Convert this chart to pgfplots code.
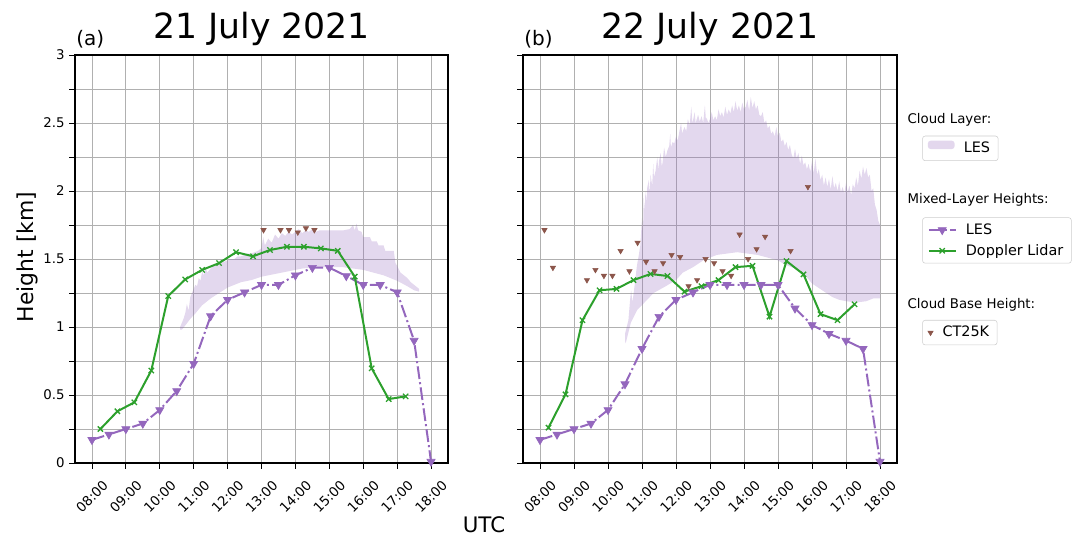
\documentclass[border=0pt]{standalone}
\usepackage{fontspec}
\setmainfont{DejaVu Sans}
\usepackage{pgfplots}
\pgfplotsset{compat=1.18}
\definecolor{tabpurple}{HTML}{9467BD}
\definecolor{tabgreen}{HTML}{2CA02C}
\definecolor{tabbrown}{HTML}{8C564B}
\definecolor{gridgray}{HTML}{B0B0B0}
\pgfplotsset{
  panel/.style={
    scale only axis, width=279.75pt, height=306pt,
    xmin=7.5, xmax=18.5, ymin=0, ymax=3,
    xtick={8,9,10,11,12,13,14,15,16,17,18},
    xticklabels={08:00,09:00,10:00,11:00,12:00,13:00,14:00,15:00,16:00,17:00,18:00},
    ytick={0,0.25,0.5,0.75,1,1.25,1.5,1.75,2,2.25,2.5,2.75,3},
    grid=major, major grid style={color=gridgray, line width=0.6pt},
    tick align=outside, major tick length=4.2pt,
    tick style={black, line width=0.6pt},
    axis line style={line width=0.8pt},
    xtick pos=bottom, ytick pos=left,
    xticklabel style={yshift=-21pt, rotate=45, anchor=center, font=\fontsize{10}{12}\selectfont},
    yticklabel style={font=\fontsize{10}{12}\selectfont},
  },
  lesml/.style={tabpurple, line width=1.5pt, dash pattern=on 9.6pt off 2.4pt on 1.5pt off 2.4pt,
    mark=triangle*, mark size=3.5pt, mark options={solid, rotate=180, fill=tabpurple, draw=tabpurple, line width=0.5pt}},
  dl/.style={tabgreen, line width=1.5pt, mark=x, mark size=2.8pt, mark options={solid, line width=1pt}},
  ceil/.style={only marks, mark=triangle*, mark size=2.3pt, mark options={rotate=180, fill=tabbrown, draw=tabbrown}},
  cloudfill/.style={fill=tabpurple, fill opacity=0.26, draw=none},
  myline legend/.style={legend image code/.code={\draw[mark repeat=2,mark phase=2,##1] plot coordinates {(0pt,0pt) (10pt,0pt) (20pt,0pt)};}},
  myarea legend/.style={legend image code/.code={\fill[draw=none, fill=tabpurple, fill opacity=0.26] (0pt,-0.05em) rectangle (20pt,0.57em);}},
  legbox/.style={hide axis, scale only axis, width=10pt, height=10pt, xmin=0, xmax=1, ymin=0, ymax=1, anchor=north west,
    legend style={at={(0,1)}, anchor=north west, draw=black!20, rounded corners=2pt,
      inner xsep=4pt, inner ysep=2.5pt, row sep=2pt, column sep=5pt,
      font=\fontsize{10.8}{13}\selectfont, cells={anchor=west}}},
}
\begin{document}
\begin{tikzpicture}[x=0.75pt,y=0.75pt]
\path[use as bounding box] (0,0) rectangle (1085,536);
% ---------------- left panel ----------------
\begin{axis}[panel, at={(56.25pt,54.75pt)}, anchor=south west,
  yticklabels={0,{},0.5,{},1,{},1.5,{},2,{},2.5,{},3}]
\addplot[cloudfill] coordinates {
(10.60,1.00)(10.65,1.03)(10.70,1.06)(10.75,1.10)(10.80,1.17)(10.85,1.12)(10.90,1.22)(10.95,1.25)
(11.00,1.28)(11.05,1.31)(11.10,1.30)(11.15,1.36)(11.20,1.34)(11.25,1.41)(11.30,1.38)(11.35,1.44)
(11.40,1.40)(11.50,1.43)(11.60,1.46)(11.70,1.45)(11.80,1.47)(11.90,1.48)(12.00,1.49)(12.10,1.50)
(12.20,1.50)(12.30,1.52)(12.40,1.52)(12.50,1.53)(12.60,1.54)(12.70,1.54)(12.80,1.55)(12.90,1.56)
(13.00,1.58)(13.05,1.66)(13.10,1.60)(13.20,1.65)(13.30,1.62)(13.40,1.68)(13.50,1.65)(13.60,1.69)
(13.70,1.67)(13.80,1.70)(13.90,1.68)(14.00,1.70)(14.10,1.72)(14.20,1.69)(14.30,1.71)(14.40,1.70)
(14.50,1.72)(14.60,1.70)(14.70,1.71)(15.00,1.71)(15.40,1.71)(15.60,1.72)(15.70,1.75)(15.75,1.71)
(15.80,1.76)(15.85,1.71)(15.95,1.70)(16.00,1.66)(16.20,1.66)(16.25,1.63)(16.40,1.63)(16.45,1.60)
(16.60,1.60)(16.65,1.56)(16.90,1.56)(16.95,1.47)(17.00,1.45)(17.10,1.40)(17.30,1.36)(17.40,1.33)
(17.50,1.31)(17.65,1.28)
(17.65,1.26)(17.50,1.27)(17.30,1.30)(17.00,1.34)(16.80,1.36)(16.60,1.38)(16.30,1.40)(16.00,1.42)
(15.70,1.43)(15.40,1.44)(15.00,1.44)(14.60,1.44)(14.20,1.43)(13.80,1.41)(13.40,1.39)(13.00,1.37)
(12.70,1.345)(12.40,1.33)(12.20,1.31)(12.00,1.29)(11.75,1.25)(11.50,1.21)(11.25,1.16)(11.05,1.10)
(10.90,1.06)(10.78,1.02)(10.65,0.98)(10.60,0.98)
} -- cycle;
\addplot[lesml] coordinates {
(8.0,0.17)(8.5,0.21)(9.0,0.25)(9.5,0.29)(10.0,0.39)(10.5,0.53)(11.0,0.73)(11.5,1.08)
(12.0,1.20)(12.5,1.255)(13.0,1.31)(13.5,1.31)(14.0,1.38)(14.5,1.436)(15.0,1.436)(15.5,1.375)
(16.0,1.31)(16.5,1.31)(17.0,1.255)(17.5,0.90)(18.0,0.01)};
\addplot[dl] coordinates {
(8.25,0.25)(8.75,0.38)(9.25,0.446)(9.75,0.68)(10.25,1.228)(10.75,1.35)(11.25,1.42)(11.75,1.47)
(12.25,1.55)(12.75,1.52)(13.25,1.566)(13.75,1.59)(14.25,1.59)(14.75,1.578)(15.25,1.56)(15.75,1.37)
(16.25,0.696)(16.75,0.47)(17.25,0.49)};
\addplot[ceil] coordinates {
(13.06,1.713)(13.56,1.713)(13.81,1.713)(14.07,1.696)(14.31,1.726)(14.56,1.713)};
\end{axis}
% ---------------- right panel ----------------
\begin{axis}[panel, at={(392.25pt,54.75pt)}, anchor=south west, width=280.5pt,
  yticklabels={,,}]
\addplot[cloudfill] coordinates {
(10.50,0.95)(10.55,1.00)(10.60,1.05)(10.65,1.20)(10.68,1.27)(10.72,1.18)(10.78,1.30)(10.85,1.45)
(10.90,1.52)(10.95,1.60)(11.00,1.80)(11.03,1.70)(11.05,1.95)(11.08,1.85)(11.10,2.00)(11.13,1.92)
(11.15,2.02)(11.20,2.08)(11.23,1.98)(11.25,2.12)(11.30,2.04)(11.33,2.20)(11.35,2.10)(11.40,2.15)
(11.45,2.25)(11.48,2.15)(11.50,2.22)(11.55,2.28)(11.58,2.18)(11.60,2.20)(11.65,2.32)(11.70,2.25)
(11.75,2.30)(11.80,2.33)(11.83,2.42)(11.85,2.32)(11.90,2.36)(11.95,2.35)(12.00,2.40)(12.05,2.37)
(12.10,2.44)(12.15,2.50)(12.18,2.42)(12.20,2.44)(12.25,2.47)(12.30,2.44)(12.35,2.53)(12.40,2.48)
(12.45,2.62)(12.48,2.50)(12.50,2.52)(12.55,2.58)(12.58,2.49)(12.60,2.52)(12.65,2.56)(12.70,2.51)
(12.75,2.55)(12.80,2.50)(12.85,2.63)(12.88,2.52)(12.90,2.54)(12.95,2.50)(13.00,2.53)(13.05,2.58)
(13.10,2.52)(13.15,2.55)(13.20,2.52)(13.25,2.60)(13.30,2.55)(13.35,2.58)(13.40,2.54)(13.45,2.62)
(13.50,2.56)(13.55,2.60)(13.60,2.57)(13.65,2.63)(13.70,2.58)(13.75,2.66)(13.80,2.59)(13.85,2.63)
(13.90,2.58)(13.95,2.65)(14.00,2.60)(14.05,2.62)(14.10,2.67)(14.15,2.59)(14.20,2.69)(14.25,2.61)
(14.30,2.66)(14.35,2.60)(14.40,2.63)(14.45,2.56)(14.50,2.55)(14.55,2.58)(14.60,2.50)(14.65,2.52)
(14.70,2.46)(14.75,2.48)(14.80,2.42)(14.85,2.44)(14.90,2.40)(14.95,2.47)(15.00,2.40)(15.05,2.43)
(15.10,2.36)(15.15,2.38)(15.20,2.33)(15.25,2.36)(15.30,2.30)(15.35,2.34)(15.40,2.27)(15.45,2.24)
(15.50,2.31)(15.55,2.24)(15.60,2.28)(15.65,2.20)(15.70,2.26)(15.75,2.19)(15.80,2.21)(15.85,2.16)
(15.90,2.20)(15.95,2.14)(16.00,2.22)(16.05,2.13)(16.10,2.24)(16.15,2.12)(16.20,2.16)(16.25,2.08)
(16.30,2.12)(16.35,2.04)(16.40,2.10)(16.45,2.03)(16.50,2.09)(16.55,2.01)(16.60,2.11)(16.65,2.02)
(16.70,2.06)(16.75,2.00)(16.80,2.07)(16.85,1.99)(16.90,2.03)(16.95,1.98)(17.00,2.06)(17.05,1.99)
(17.10,2.04)(17.15,1.97)(17.20,2.05)(17.25,2.02)(17.30,2.10)(17.35,2.04)(17.40,2.15)(17.45,2.09)
(17.50,2.18)(17.55,2.12)(17.60,2.17)(17.65,2.10)(17.70,2.12)(17.75,2.00)(17.80,2.02)(17.85,1.90)
(17.90,1.86)(17.95,1.78)(18.00,1.75)
(18.00,1.21)(17.80,1.21)(17.60,1.19)(17.30,1.18)(17.00,1.19)(16.80,1.20)(16.60,1.22)(16.30,1.27)
(16.00,1.32)(15.80,1.38)(15.50,1.43)(15.20,1.46)(15.00,1.49)(14.70,1.51)(14.40,1.53)(14.10,1.54)
(13.80,1.55)(13.50,1.54)(13.20,1.53)(13.00,1.51)(12.80,1.49)(12.50,1.44)(12.20,1.40)(12.00,1.345)
(11.70,1.30)(11.34,1.25)(11.15,1.20)(10.86,1.125)(10.67,1.03)(10.52,0.88)(10.50,0.90)
} -- cycle;
\addplot[lesml] coordinates {
(8.0,0.17)(8.5,0.21)(9.0,0.25)(9.5,0.29)(10.0,0.39)(10.5,0.58)(11.0,0.84)(11.5,1.076)
(12.0,1.20)(12.5,1.255)(13.0,1.31)(13.5,1.31)(14.0,1.31)(14.5,1.31)(15.0,1.31)(15.5,1.137)
(16.0,1.015)(16.5,0.95)(17.0,0.90)(17.5,0.84)(18.0,0.01)};
\addplot[dl] coordinates {
(8.25,0.26)(8.75,0.505)(9.25,1.05)(9.75,1.27)(10.25,1.28)(10.75,1.345)(11.25,1.39)(11.75,1.375)
(12.25,1.26)(12.75,1.30)(13.25,1.345)(13.75,1.44)(14.25,1.45)(14.75,1.076)(15.25,1.485)(15.75,1.387)
(16.25,1.095)(16.75,1.05)(17.25,1.167)};
\addplot[ceil] coordinates {
(8.13,1.713)(8.38,1.436)(9.38,1.345)(9.63,1.42)(9.88,1.377)(10.13,1.377)(10.37,1.56)(10.63,1.41)
(10.87,1.62)(11.12,1.48)(11.37,1.41)(11.62,1.47)(11.87,1.53)(12.12,1.515)(12.37,1.30)(12.62,1.345)
(12.87,1.50)(13.12,1.47)(13.37,1.41)(13.62,1.377)(13.87,1.68)(14.12,1.50)(14.37,1.573)(14.62,1.664)
(15.37,1.56)(15.88,2.03)};
\end{axis}
% ---------------- legends ----------------
\begin{axis}[legbox, at={(691.7pt,300.2pt)}]
\addlegendimage{myarea legend}
\addlegendentry{LES}
\end{axis}
\begin{axis}[legbox, at={(691.7pt,239pt)}]
\addlegendimage{lesml, myline legend}
\addlegendentry{LES}
\addlegendimage{dl, myline legend}
\addlegendentry{Doppler Lidar}
\end{axis}
\begin{axis}[legbox, at={(691.7pt,162pt)}]
\addlegendimage{ceil, myline legend}
\addlegendentry{CT25K}
\end{axis}
% ---------------- texts ----------------
\node[anchor=base, inner sep=0pt, font=\fontsize{26}{30}\selectfont] at (261.5,497.7) {21 July 2021};
\node[anchor=base, inner sep=0pt, font=\fontsize{26}{30}\selectfont] at (710,497.7) {22 July 2021};
\node[anchor=base west, inner sep=0pt, font=\fontsize{15}{18}\selectfont] at (76,490) {(a)};
\node[anchor=base west, inner sep=0pt, font=\fontsize{15}{18}\selectfont] at (524,490) {(b)};
\node[rotate=90, inner sep=0pt, font=\fontsize{16.4}{19}\selectfont] at (27,279) {Height [km]};
\node[inner sep=0pt, font=\fontsize{16}{19}\selectfont] at (484,11) {UTC};
\node[anchor=west, inner sep=0pt, font=\fontsize{10}{12}\selectfont] at (907.3,416) {Cloud Layer:};
\node[anchor=west, inner sep=0pt, font=\fontsize{10}{12}\selectfont] at (907.3,336) {Mixed-Layer Heights:};
\node[anchor=west, inner sep=0pt, font=\fontsize{10}{12}\selectfont] at (907.3,231) {Cloud Base Height:};
\end{tikzpicture}
\end{document}
